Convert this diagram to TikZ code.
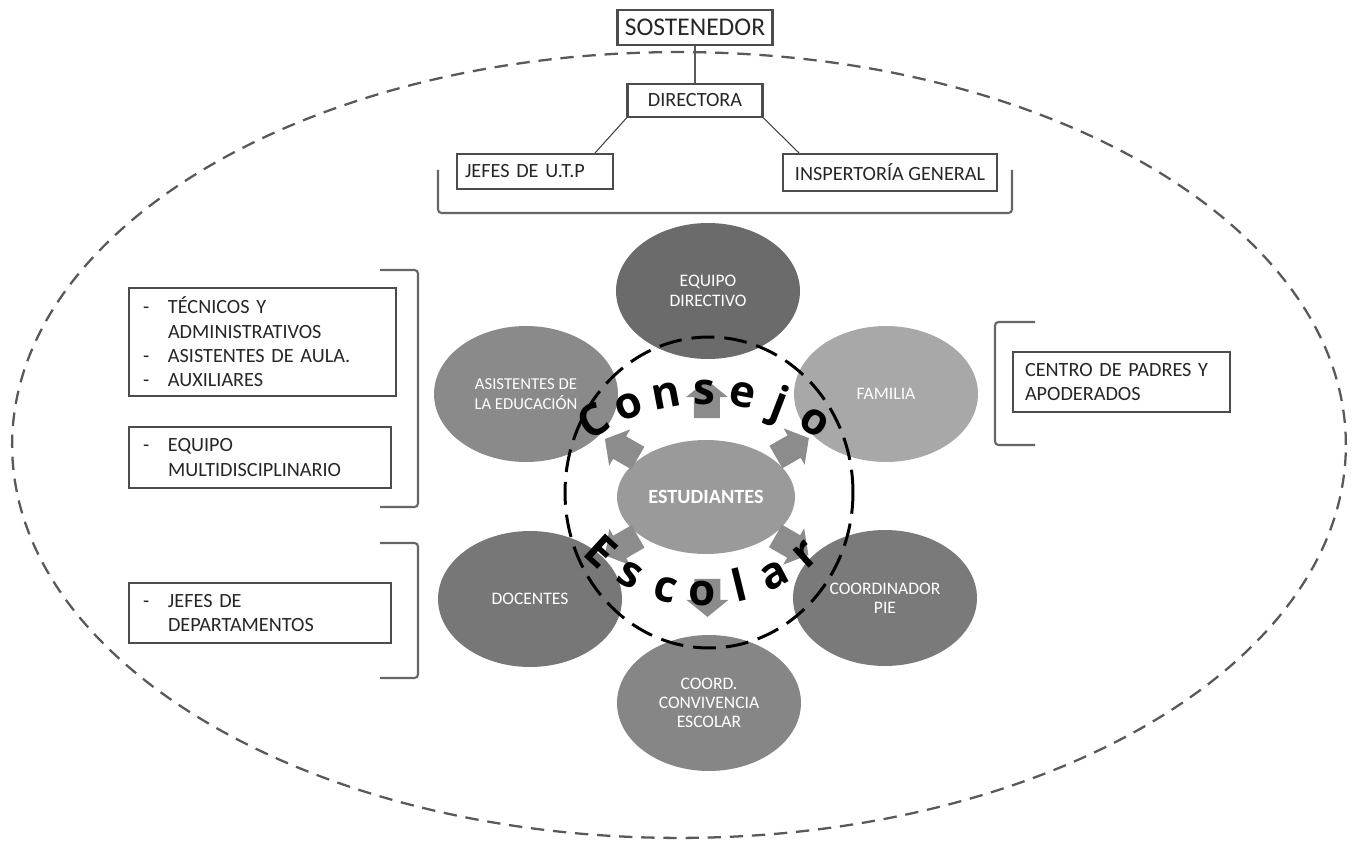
\documentclass[tikz,border=0pt]{standalone}
\usepackage{fontspec}
\setmainfont{Carlito}
\newfontfamily\arcfont{Open Sans}
\usetikzlibrary{shapes.geometric,calc}
\definecolor{dirgray}{HTML}{6B6B6B}
\definecolor{famgray}{HTML}{A8A8A8}
\definecolor{asigray}{HTML}{8A8A8A}
\definecolor{estgray}{HTML}{9A9A9A}
\definecolor{docgray}{HTML}{777777}
\definecolor{piegray}{HTML}{7A7A7A}
\definecolor{convgray}{HTML}{868686}
\definecolor{arrgray}{HTML}{8C8C8C}
\newcommand{\dashitem}{\makebox[0.5cm][l]{-}}
\newcommand{\contline}{\hspace*{0.5cm}}

\begin{document}
\begin{tikzpicture}[x=0.02cm,y=-0.02cm,
    box/.style={draw=black!70,line width=1.2pt,fill=white,text=black!85,
      font=\fontsize{11.5}{13.9}\selectfont},
    rol/.style={ellipse,minimum width=3.68cm,minimum height=2.72cm,inner sep=0pt,
      text=white,align=center,font=\fontsize{10}{11}\selectfont},
    pics/blockarrow/.style={code={
      \fill[arrgray] (-19,-13) -- (2,-13) -- (2,-21) -- (19,0) -- (2,21) -- (2,13) -- (-19,13) -- cycle;}},
    bracket/.style={line width=1.2pt,draw=black!60,rounded corners=2pt},
    letra/.style={font=\arcfont\bfseries\fontsize{25}{25}\selectfont,anchor=base,inner sep=0pt}]
    \useasboundingbox (0,0) rectangle (1356,841);
    % Draw outer dashed ellipse
    \draw[black!65,line width=1.3pt,dash pattern=on 7.6pt off 5pt]
      (679,445) ellipse [x radius=13.34cm, y radius=7.86cm];
    % Draw top of the hierarchy
    \node[box,minimum width=3.1cm,minimum height=0.7cm,inner sep=0pt,
      font=\fontsize{14.5}{16}\selectfont] (sost) at (695,27.5) {SOSTENEDOR};
    \node[box,minimum width=2.7cm,minimum height=0.66cm,inner sep=0pt] (dir) at (695,100.5) {DIRECTORA};
    \node[box,text width=2.8cm,minimum height=0.7cm,inner xsep=0.16cm,inner ysep=0pt,align=left]
      (utp) at (535,171.5) {JEFES DE U.T.P};
    \node[box,minimum width=4.28cm,minimum height=0.74cm,inner sep=0pt] (insp) at (890,172.5) {INSPERTORÍA GENERAL};
    \draw[black!65,line width=1.2pt] (sost.south) -- (dir.north);
    \draw[black!75,line width=0.6pt] (dir.south west) -- ([xshift=-0.38cm]utp.north east);
    \draw[black!75,line width=0.6pt] (dir.south east) -- ([xshift=0.34cm]insp.north west);
    % Draw brackets
    \draw[bracket] (438,170) -- (438,213) -- (1012,213) -- (1012,170);
    \draw[bracket] (380,270) -- (418,270) -- (418,507) -- (380,507);
    \draw[bracket] (380,543) -- (418,543) -- (418,678) -- (380,678);
    \draw[bracket] (1035,322) -- (995,322) -- (995,445) -- (1035,445);
    % Draw left and right boxes
    \node[box,text width=4.78cm,minimum height=2.16cm,inner xsep=0.28cm,inner ysep=0pt,align=left]
      (tec) at (262.5,342) {\dashitem TÉCNICOS Y\\ \contline ADMINISTRATIVOS\\
      \dashitem ASISTENTES DE AULA.\\ \dashitem AUXILIARES};
    \node[box,text width=4.68cm,minimum height=1.22cm,inner xsep=0.28cm,inner ysep=0pt,align=left]
      (multi) at (260,457.5) {\dashitem EQUIPO\\ \contline MULTIDISCIPLINARIO};
    \node[box,text width=4.68cm,minimum height=1.2cm,inner xsep=0.28cm,inner ysep=0pt,align=left]
      (depto) at (260,613) {\dashitem JEFES DE\\ \contline DEPARTAMENTOS};
    \node[box,text width=3.86cm,minimum height=1.2cm,inner xsep=0.24cm,inner ysep=0pt,align=left]
      (padres) at (1121.5,382) {CENTRO DE PADRES Y\\ APODERADOS};
    % Draw the circle of roles
    \node[rol,fill=dirgray] (equipo) at (708,291) {EQUIPO\\ DIRECTIVO};
    \node[rol,fill=asigray,font=\fontsize{9.5}{11}\selectfont] (asist) at (526,394) {ASISTENTES DE\\ LA EDUCACIÓN};
    \node[rol,fill=famgray] (familia) at (886,394) {FAMILIA};
    \node[rol,fill=docgray] (docentes) at (530,599) {DOCENTES};
    \node[rol,fill=piegray] (pie) at (885,598) {COORDINADOR\\ PIE};
    \node[rol,fill=convgray] (conviv) at (709,703) {COORD.\\ CONVIVENCIA\\ ESCOLAR};
    \node[rol,fill=estgray,minimum width=3.56cm,minimum height=2.28cm,
      font=\fontsize{11.5}{13}\selectfont\bfseries] (estud) at (706,497) {ESTUDIANTES};
    % Draw arrows from students
    \pic[rotate=90] at ($(estud)!0.475!(equipo)$) {blockarrow};
    \pic[rotate=150] at ($(estud)!0.47!(asist)$) {blockarrow};
    \pic[rotate=30] at ($(estud)!0.48!(familia)$) {blockarrow};
    \pic[rotate=-150] at ($(estud)!0.48!(docentes)$) {blockarrow};
    \pic[rotate=-30] at ($(estud)!0.48!(pie)$) {blockarrow};
    \pic[rotate=-90] at ($(estud)!0.49!(conviv)$) {blockarrow};
    % Draw dashed circle of the council
    \draw[line width=1.7pt,dash pattern=on 13pt off 5.7pt]
      (709,492.5) ellipse [x radius=2.88cm, y radius=3.11cm];
    % Write Consejo Escolar along the circle
    \foreach \ch [count=\i] in {C,o,n,s,e,j,o} {
      \pgfmathsetmacro\ang{122-10.6*(\i-1)}
      \node[letra,rotate=\ang-90] at ({705+196*cos(\ang)},{600-196*sin(\ang)}) {\ch};
    }
    \foreach \ch [count=\i] in {E,s,c,o,l,a,r} {
      \pgfmathsetmacro\ang{-132.4+14.05*(\i-1)}
      \node[letra,rotate=\ang+90] at ({703+166*cos(\ang)},{440-166*sin(\ang)}) {\ch};
    }
\end{tikzpicture}
\end{document}
